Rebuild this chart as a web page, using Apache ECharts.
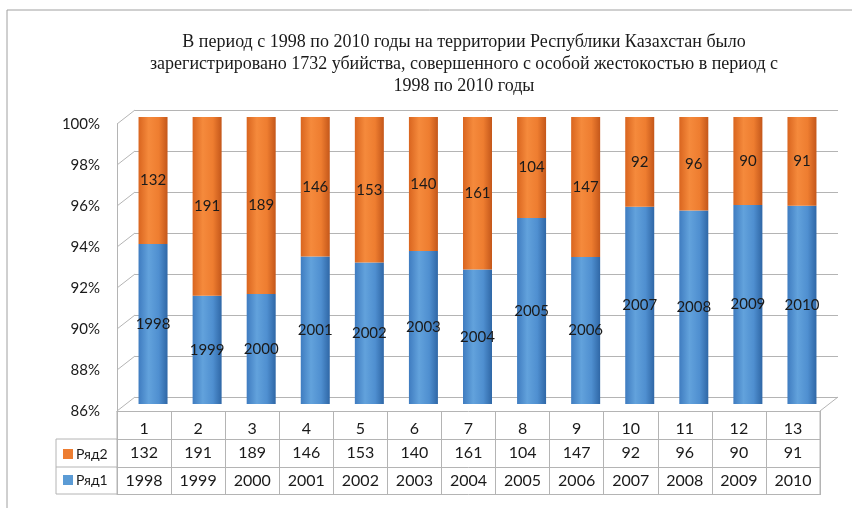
<!DOCTYPE html>
<html>
<head>
<meta charset="utf-8">
<script src="https://cdn.jsdelivr.net/npm/echarts@6/dist/echarts.min.js"></script>
<style>
  html, body { margin: 0; padding: 0; background: #fff; }
  #main { width: 852px; height: 508px; }
</style>
</head>
<body>
<div id="main"></div>
<script>
// данные
const categories = ['1', '2', '3', '4', '5', '6', '7', '8', '9', '10', '11', '12', '13'];
const row1 = [1998, 1999, 2000, 2001, 2002, 2003, 2004, 2005, 2006, 2007, 2008, 2009, 2010];
const row2 = [132, 191, 189, 146, 153, 140, 161, 104, 147, 92, 96, 90, 91];
const yTicks = [86, 88, 90, 92, 94, 96, 98, 100];
const names = ['Ряд1', 'Ряд2'];
const titleText = 'В период с 1998 по 2010 годы на территории Республики Казахстан было\n' +
  'зарегистрировано 1732 убийства, совершенного с особой жестокостью в период с\n' +
  '1998 по 2010 годы';

// 100% stacked
const pct1 = row1.map((v, i) => v / (v + row2[i]) * 100);
const pct2 = row2.map((v, i) => v / (v + row1[i]) * 100);

// геометрия
const L = 117, R = 32, T = 124, B = 97;   // front plane
const DX = 18, DY = 14;                   // 3d depth
const rowH = 28;
const lineColor = '#b4b4b4';
const font = 'Lato, "Noto Sans", sans-serif';

const chart = echarts.init(document.getElementById('main'), null, { renderer: 'canvas' });

function tableAxis(data, offset, showLabel, margin) {
  return {
    type: 'category', gridIndex: 0, position: 'bottom', offset: offset,
    data: data,
    axisLine: { show: true, onZero: false, lineStyle: { color: lineColor, width: 1 } },
    axisTick: { show: showLabel, inside: false, length: rowH, alignWithLabel: false,
      lineStyle: { color: lineColor } },
    axisLabel: { show: showLabel, margin: margin, fontSize: 16, color: '#1a1a1a', fontFamily: font },
    splitLine: { show: false }
  };
}

const blueGrad = new echarts.graphic.LinearGradient(0, 0, 1, 0, [
  { offset: 0, color: '#3f7cc0' },
  { offset: 0.35, color: '#62a2dc' },
  { offset: 0.7, color: '#4f8fd0' },
  { offset: 1, color: '#2f67a6' }
]);
const orangeGrad = new echarts.graphic.LinearGradient(0, 0, 1, 0, [
  { offset: 0, color: '#d9651f' },
  { offset: 0.35, color: '#f58a3c' },
  { offset: 0.7, color: '#ee7d30' },
  { offset: 1, color: '#c4571a' }
]);

var option = {
  animation: false,
  title: {
    text: titleText,
    left: 459, top: 26, textAlign: 'center',
    textStyle: { fontFamily: '"Liberation Serif", serif', fontSize: 18, fontWeight: 'normal',
      color: '#1a1a1a', lineHeight: 22 }
  },
  legend: {
    orient: 'vertical', left: 58, top: 442, itemWidth: 10, itemHeight: 10, itemGap: 12,
    icon: 'rect',
    textStyle: { fontSize: 14, color: '#1a1a1a', fontFamily: font, padding: [0, 0, 0, -2] },
    data: [
      { name: names[1], itemStyle: { color: '#ed7d31' } },
      { name: names[0], itemStyle: { color: '#5b9bd5' } }
    ]
  },
  grid: [
    { left: L, right: R, top: T, bottom: B, outerBoundsMode: 'none' },
    { left: L + DX, right: R - DX, top: T - DY, bottom: B + DY, outerBoundsMode: 'none' },
    { left: L + DX / 2, right: R - DX / 2, top: T - DY / 2, bottom: B + DY / 2, outerBoundsMode: 'none' }
  ],
  xAxis: [
    tableAxis(categories, 0, true, 10),
    tableAxis(row2.map(String), rowH, true, 6),
    tableAxis(row1.map(String), rowH * 2, true, 6),
    tableAxis(categories, rowH * 3 - 1, false, 6),
    { type: 'category', gridIndex: 1, data: categories, show: false },
    { type: 'category', gridIndex: 2, data: categories, show: false }
  ],
  yAxis: [
    {
      type: 'value', gridIndex: 0, min: yTicks[0], max: yTicks[yTicks.length - 1], interval: 2,
      axisLine: { show: true, lineStyle: { color: lineColor } },
      axisTick: { show: false },
      splitLine: { show: false },
      axisLabel: { formatter: '{value}%', margin: 17, fontSize: 15, color: '#1a1a1a', fontFamily: font }
    },
    {
      type: 'value', gridIndex: 1, min: yTicks[0], max: yTicks[yTicks.length - 1], interval: 2,
      axisLine: { show: false }, axisTick: { show: false }, axisLabel: { show: false },
      splitLine: { show: true, lineStyle: { color: lineColor, width: 1 } }
    },
    {
      type: 'value', gridIndex: 2, min: yTicks[0], max: yTicks[yTicks.length - 1], interval: 2,
      show: false
    }
  ],
  series: [
    {
      name: names[0], type: 'bar', stack: 'all', xAxisIndex: 5, yAxisIndex: 2,
      data: pct1, barWidth: 29, clip: true,
      itemStyle: { color: blueGrad },
      label: { show: true, position: 'inside', fontSize: 15, color: '#1a1a1a', fontFamily: font,
        formatter: p => row1[p.dataIndex] }
    },
    {
      name: names[1], type: 'bar', stack: 'all', xAxisIndex: 5, yAxisIndex: 2,
      data: pct2, barWidth: 29, clip: true,
      itemStyle: { color: orangeGrad },
      label: { show: true, position: 'inside', fontSize: 15, color: '#1a1a1a', fontFamily: font,
        formatter: p => row2[p.dataIndex] }
    }
  ]
};
chart.setOption(option);

// рамка, стенки, ячейки легенды
const W = chart.getWidth(), H = chart.getHeight();
const right = W - R, bottom = H - B;
const deco = [];
const ln = (x1, y1, x2, y2, c) => ({
  type: 'line', silent: true,
  shape: { x1: x1, y1: y1, x2: x2, y2: y2 },
  style: { stroke: c || lineColor, lineWidth: 1 }
});
deco.push(ln(7, 10, W, 10, '#a0a0a0'));
deco.push(ln(7, 10, 7, H, '#a0a0a0'));
yTicks.forEach(v => {
  const y = chart.convertToPixel({ yAxisIndex: 0 }, v);
  deco.push(ln(L, y, L + DX, y - DY));
});
deco.push(ln(right, bottom, right + DX, bottom - DY));
// legend cells
deco.push(ln(56, bottom + rowH, L, bottom + rowH));
deco.push(ln(56, bottom + rowH * 2, L, bottom + rowH * 2));
deco.push(ln(56, bottom + rowH * 3 - 1, L, bottom + rowH * 3 - 1));
deco.push(ln(56, bottom + rowH, 56, bottom + rowH * 3 - 1));
deco.push(ln(L, bottom, L, bottom + rowH * 3 - 1));
deco.push(ln(right, bottom, right, bottom + rowH * 3 - 1));
chart.setOption({ graphic: { elements: deco } });
</script>
</body>
</html>
